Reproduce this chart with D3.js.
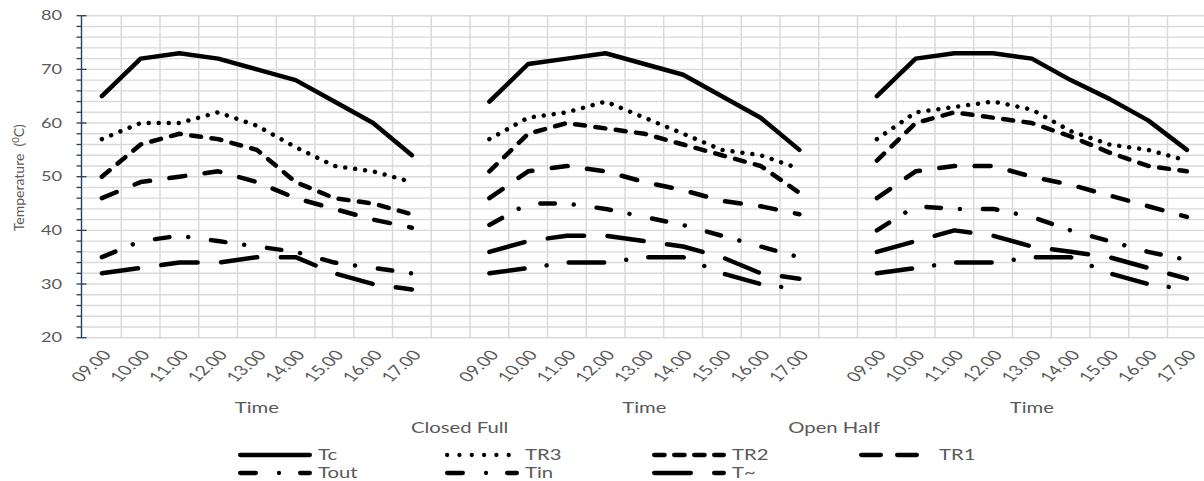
<!DOCTYPE html>
<html>
<head>
<meta charset="utf-8">
<script src="https://cdn.jsdelivr.net/npm/d3@7"></script>
<style>
	body { margin: 0; background: #fff; }
	svg { display: block; }
	text { font-family: Lato, "Open Sans", sans-serif; fill: #595959; }
</style>
</head>
<body>
<svg id="chart" width="1204" height="481"></svg>
<script>
// ---- data ----
const times = ["09.00", "10.00", "11.00", "12.00", "13.00", "14.00", "15.00", "16.00", "17.00"];
const groupLabels = ["Closed Full", "Open Half"];
const yTicks = [20, 30, 40, 50, 60, 70, 80];

// one sub-array per panel (Closed Full, Open Half, third panel)
const Tc   = [[65, 72, 73, 72, 70, 68, 64, 60, 54], [64, 71, 72, 73, 71, 69, 65, 61, 55], [65, 72, 73, 73, 72, 68, 64.5, 60.5, 55]];
const TR3  = [[57, 60, 60, 62, 59.5, 55.5, 52, 51, 49], [57, 61, 62, 64, 61, 58, 55, 54, 51.5], [57, 62, 63, 64, 62.5, 58.5, 56, 55, 53]];
const TR2  = [[50, 56, 58, 57, 55, 49, 46, 45, 43], [51, 58, 60, 59, 58, 56, 54, 52, 47], [53, 60, 62, 61, 60, 57.5, 54.5, 52, 51]];
const TR1  = [[46, 49, 50, 51, 49, 46, 44, 42, 40.5], [46, 51, 52, 51, 49, 47.5, 45.5, 44.5, 43], [46, 51, 52, 52, 50, 48.5, 46.5, 44.5, 42.5]];
const Tout = [[35, 38, 39, 38, 37, 36, 34, 33, 32], [41, 45, 45, 44, 42.5, 41, 39, 37, 35], [40, 44.5, 44, 44, 42.5, 40, 38, 36, 34.5]];
const Tin  = [[null, null, null, null, null, null, null, null, null], [32, 33, 34, 34, 35, 35, 32, 30, 29], [32, 33, 34, 34, 35, 35, 32, 30, 29]];
const Tamb = [[32, 33, 34, 34, 35, 35, 32, 30, 29], [36, 38, 39, 39, 38, 37, 35, 32, 31], [36, 38, 40, 39, 37, 36, 35, 33, 31]];

const seriesNames = ["Tc", "TR3", "TR2", "TR1", "Tout", "Tin", "T~"];
const seriesValues = [Tc, TR3, TR2, TR1, Tout, Tin, Tamb];

// line styles (round caps)
const lineDash   = [null, "0.01 10", "10 10.5", "16 19.5", "14.5 19 0.01 23", "35.5 22.25 0.01 22.25", "36.5 23.5"];
const legendDash = [null, "0.01 12.3", "10.5 9.5", "19.7 16.3", "15.7 23.15 0.01 21.15", "15.7 23.15 0.01 21.15", "36.7 23.3"];

// ---- layout ----
const plotLeft = 82.5, band = 38.75, plotTop = 15.7, plotBottom = 337.7;
const stretch = 1.4; // the picture is widened horizontally

const svg = d3.select("#chart");

// category keys: 3 panels of 9 times, one empty slot between panels
const keys = [];
times.forEach(t => keys.push("0|" + t));
keys.push("gap0");
times.forEach(t => keys.push("1|" + t));
keys.push("gap1");
times.forEach(t => keys.push("2|" + t));

const x = d3.scaleBand().domain(keys).range([plotLeft, plotLeft + keys.length * band]).padding(0);
const cx = k => x(k) + x.bandwidth() / 2;
const y = d3.scaleLinear().domain([20, 80]).range([plotBottom, plotTop]);

function stext(g, px, py, str, size, anchor) {
	return g.append("text")
		.attr("transform", "translate(" + px + "," + py + ") scale(" + stretch + ",1)")
		.attr("text-anchor", anchor || "middle")
		.attr("dy", "0.35em")
		.style("font-size", size + "px")
		.text(str);
}

// grid
const grid = svg.append("g");
grid.selectAll("line.h")
	.data(d3.range(20, 81, 2))
	.join("line")
	.attr("x1", plotLeft).attr("x2", x.range()[1])
	.attr("y1", d => y(d)).attr("y2", d => y(d))
	.attr("stroke", "#d9d9d9").attr("stroke-width", 1.4);
grid.selectAll("line.v")
	.data(keys)
	.join("line")
	.attr("x1", d => x(d) + band).attr("x2", d => x(d) + band)
	.attr("y1", plotTop).attr("y2", plotBottom)
	.attr("stroke", "#d9d9d9").attr("stroke-width", 1.4);

// y axis
const axisColor = "#243f60";
const ax = svg.append("g");
ax.append("line")
	.attr("x1", plotLeft - 1).attr("x2", plotLeft - 1)
	.attr("y1", plotTop).attr("y2", plotBottom)
	.attr("stroke", axisColor).attr("stroke-width", 1.4);
ax.selectAll("line.t")
	.data(d3.range(20, 81, 2))
	.join("line")
	.attr("x1", plotLeft - 6)
	.attr("x2", d => d % 10 === 0 ? plotLeft + 4 : plotLeft - 1)
	.attr("y1", d => y(d)).attr("y2", d => y(d))
	.attr("stroke", axisColor).attr("stroke-width", 1.3);
yTicks.forEach(v => stext(ax, 62, y(v), v, 13, "end"));

const yTitle = svg.append("text")
	.attr("transform", "translate(19," + ((plotTop + plotBottom) / 2 + 1) + ") rotate(-90)")
	.attr("text-anchor", "middle")
	.attr("dy", "0.35em")
	.style("font-size", "14px");
yTitle.append("tspan").text("Temperature\u00a0\u00a0(");
yTitle.append("tspan").attr("baseline-shift", "super").style("font-size", "9.5px").text("0");
yTitle.append("tspan").text("C)");

// x tick labels
const xl = svg.append("g");
keys.filter(k => !k.startsWith("gap")).forEach(k => {
	xl.append("text")
		.attr("transform", "translate(" + (cx(k) + 5) + ",352) scale(" + stretch + ",1) rotate(-51)")
		.attr("text-anchor", "end")
		.attr("dy", "0.35em")
		.style("font-size", "14px")
		.text(k.split("|")[1]);
});

// axis titles and group labels
[0, 1, 2].forEach(p => {
	const mid = (cx(p + "|" + times[0]) + cx(p + "|" + times[times.length - 1])) / 2;
	stext(svg, mid, 408, "Time", 14.5);
});
stext(svg, cx("gap0") + 9, 428, groupLabels[0], 14.5);
stext(svg, cx("gap1") - 4, 428, groupLabels[1], 14.5);

// series lines, one path per panel so each dash pattern starts at 09.00
const line = d3.line()
	.defined(d => d.v != null)
	.x(d => cx(d.k))
	.y(d => y(d.v));

const plot = svg.append("g");
seriesValues.forEach((panels, si) => {
	panels.forEach((vals, p) => {
		const pts = vals.map((v, i) => ({ k: p + "|" + times[i], v: v }));
		if (!pts.some(d => d.v != null)) return;
		plot.append("path")
			.datum(pts)
			.attr("d", line)
			.attr("fill", "none")
			.attr("stroke", "#000")
			.attr("stroke-width", 4.5)
			.attr("stroke-linecap", "round")
			.attr("stroke-linejoin", "round")
			.attr("stroke-dasharray", lineDash[si]);
	});
});

// legend
const legCols = [238, 445, 652, 859];
const legRows = [455, 473];
const sample = 74;
const leg = svg.append("g");
seriesNames.forEach((name, i) => {
	const lx = legCols[i % 4], ly = legRows[Math.floor(i / 4)];
	leg.append("line")
		.attr("x1", lx + 2.15).attr("x2", lx + sample - 2.15)
		.attr("y1", ly).attr("y2", ly)
		.attr("stroke", "#000")
		.attr("stroke-width", 4.3)
		.attr("stroke-linecap", "round")
		.attr("stroke-dasharray", legendDash[i]);
	stext(leg, lx + sample + 6, ly, name, 14.5, "start");
});
</script>
</body>
</html>
